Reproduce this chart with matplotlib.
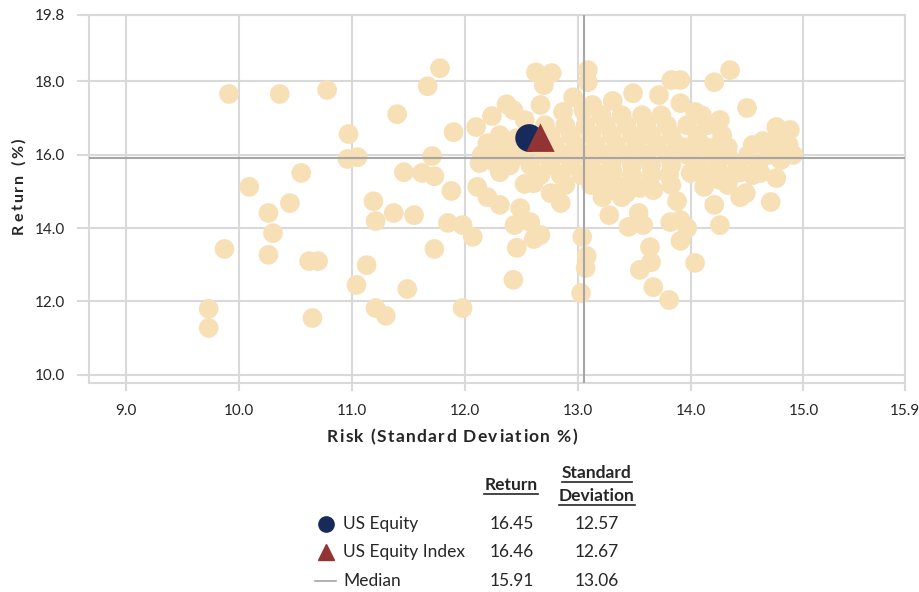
import matplotlib
matplotlib.use("Agg")
import matplotlib.pyplot as plt
from matplotlib.lines import Line2D
from matplotlib.font_manager import FontProperties

# ---------------- data ----------------
risk = [
    9.91, 10.36, 10.78, 11.78, 11.67, 11.40, 10.97, 10.96, 11.05, 11.71, 11.46, 11.62, 11.73,
    11.90, 11.88, 10.09, 10.55, 10.45, 10.26, 10.30, 10.26, 9.87, 10.62, 10.70, 11.19, 11.21,
    11.37, 11.55, 11.85, 11.73, 11.13, 11.04, 11.49, 11.21, 11.30, 10.65, 9.73, 9.73, 11.98,
    11.98, 12.07, 12.11, 12.20, 12.31, 12.44, 12.46, 12.43, 12.58, 12.67, 12.61, 12.49, 12.53,
    12.61, 12.31, 12.13, 12.76, 12.85, 13.04, 13.08, 13.07, 13.03, 13.22, 13.39, 13.28, 13.45,
    13.58, 13.54, 13.55, 13.67, 13.64, 13.65, 13.55, 13.67, 13.81, 14.04, 13.82, 13.91, 13.97,
    13.91, 13.88, 14.21, 14.26, 14.44, 14.49, 14.71, 14.76, 14.62, 14.44, 14.26, 14.12, 13.81,
    14.00, 13.31, 13.43, 13.25, 14.76, 14.88, 14.87, 14.76, 14.80, 14.64, 14.50, 14.26, 14.21,
    14.33, 13.97, 13.97, 14.04, 13.91, 13.72, 13.49, 13.31, 13.83, 13.91, 14.21, 14.35, 13.09,
    13.09, 12.63, 12.77, 12.70, 12.96, 12.87, 12.67, 12.37, 12.24, 12.10, 12.53, 12.43, 13.05,
    13.13, 12.20, 12.15, 12.46, 12.42, 12.26,
    13.21, 13.39, 13.57, 13.74, 14.10,
    12.71, 12.89, 13.07, 13.25, 13.43, 13.61, 13.79, 14.15,
    12.31, 12.58, 12.76, 12.94, 13.12, 13.30, 13.48, 13.65, 13.83, 14.06, 14.28,
    12.35, 12.62, 12.80, 12.98, 13.16, 13.34, 13.52, 13.70, 13.88, 14.10, 14.55,
    12.31, 12.49, 12.71, 12.89, 13.07, 13.25, 13.43, 13.61, 13.79, 13.97, 14.15, 14.33, 14.51,
    14.69, 14.91,
    12.40, 12.58, 12.76, 12.94, 13.12, 13.30, 13.48, 13.65, 13.83, 14.06, 14.24, 14.42, 14.60,
    12.67, 12.85, 13.03, 13.21, 13.48, 13.65, 14.15, 14.37, 14.55,
    12.89, 13.12, 13.34, 13.83, 14.33,
]
returns = [
    17.65, 17.65, 17.76, 18.35, 17.86, 17.10, 16.56, 15.88, 15.93, 15.96, 15.52, 15.50, 15.41,
    16.61, 15.01, 15.12, 15.50, 14.68, 14.41, 13.86, 13.27, 13.43, 13.10, 13.10, 14.73, 14.19,
    14.41, 14.35, 14.14, 13.43, 12.99, 12.45, 12.34, 11.82, 11.61, 11.55, 11.80, 11.28, 11.82,
    14.08, 13.76, 15.12, 14.84, 14.63, 14.08, 13.46, 12.59, 14.16, 13.81, 13.70, 14.54, 15.20,
    15.22, 15.52, 15.77, 14.95, 14.68, 13.76, 13.24, 12.91, 12.23, 14.84, 14.84, 14.35, 14.03,
    14.08, 14.41, 15.09, 15.03, 13.48, 13.07, 12.86, 12.39, 12.04, 13.05, 14.16, 14.22, 14.00,
    13.65, 14.73, 14.63, 14.08, 14.84, 14.95, 14.71, 15.36, 15.50, 15.52, 15.31, 15.12, 15.44,
    15.50, 15.52, 14.95, 15.03, 16.75, 16.67, 16.26, 16.31, 15.85, 16.37, 17.27, 16.94, 16.20,
    16.20, 16.20, 16.80, 17.16, 17.40, 17.62, 17.67, 17.46, 18.03, 18.03, 17.97, 18.30, 18.30,
    17.97, 18.24, 18.22, 17.89, 17.56, 17.16, 17.35, 17.37, 17.05, 16.75, 16.94, 17.21, 17.21,
    17.35, 16.31, 15.99, 16.45, 16.18, 15.80,
    17.07, 17.07, 17.07, 17.07, 17.07,
    16.80, 16.80, 16.80, 16.80, 16.80, 16.80, 16.80, 16.80,
    16.53, 16.53, 16.53, 16.53, 16.53, 16.53, 16.53, 16.53, 16.53, 16.53, 16.53,
    16.26, 16.26, 16.26, 16.26, 16.26, 16.26, 16.26, 16.26, 16.26, 16.26, 16.26,
    15.99, 15.99, 15.99, 15.99, 15.99, 15.99, 15.99, 15.99, 15.99, 15.99, 15.99, 15.99, 15.99,
    15.99, 15.99,
    15.71, 15.71, 15.71, 15.71, 15.71, 15.71, 15.71, 15.71, 15.71, 15.71, 15.71, 15.71, 15.71,
    15.44, 15.44, 15.44, 15.44, 15.44, 15.44, 15.44, 15.44, 15.44,
    15.17, 15.17, 15.17, 15.17, 15.17,
]

fund_name = "US Equity"
fund_return = 16.45
fund_sd = 12.57
index_name = "US Equity Index"
index_return = 16.46
index_sd = 12.67
median_return = 15.91
median_sd = 13.06

x_ticks = [9.0, 10.0, 11.0, 12.0, 13.0, 14.0, 15.0, 15.9]
y_ticks = [10.0, 12.0, 14.0, 16.0, 18.0, 19.8]
x_label = "Risk (Standard Deviation %)"
y_label = "Return (%)"

# ---------------- style ----------------
FONT = "Lato"
plt.rcParams["font.family"] = [FONT, "DejaVu Sans"]
W, H = 920, 592
fig = plt.figure(figsize=(W / 100, H / 100), dpi=100)

def fx(px):
    return px / W

def fy(py):
    return 1 - py / H

left, right, top, bottom = 89, 905, 15, 383
ax = fig.add_axes([fx(left), fy(bottom), fx(right) - fx(left), fy(top) - fy(bottom)])

GRID = "#d9d9d9"
MED = "#a6a6a6"
PEACH = "#f7dfb6"
NAVY = "#172a5a"
RED = "#933434"
TXT = "#262626"

ax.set_xlim(8.67, 15.9)
ax.set_ylim(9.78, 19.8)
ax.set_xticks(x_ticks)
ax.set_xticklabels([f"{v:.1f}" for v in x_ticks])
ax.set_yticks(y_ticks)
ax.set_yticklabels([f"{v:.1f}" for v in y_ticks])
ax.grid(True, color=GRID, linewidth=1.5, zorder=0)
ax.set_axisbelow(True)
for s in ax.spines.values():
    s.set_color(GRID)
    s.set_linewidth(1.5)
ax.tick_params(axis="x", length=6, width=1.5, color=GRID, pad=9, labelsize=11, labelcolor=TXT)
ax.tick_params(axis="y", length=9, width=1.5, color=GRID, pad=8, labelsize=11, labelcolor=TXT)

ax.scatter(risk, returns, s=200, color=PEACH, edgecolors="none", zorder=2)
ax.axhline(median_return, color=MED, linewidth=1.5, zorder=3)
ax.axvline(median_sd, color=MED, linewidth=1.5, zorder=3)
ax.scatter([fund_sd], [fund_return], s=400, marker="o", color=NAVY, edgecolors="none", zorder=4)
ax.scatter([index_sd], [index_return], s=420, marker="^", color=RED, edgecolors="none", zorder=5)

fig.canvas.draw()
renderer = fig.canvas.get_renderer()


def char_widths(s, fp):
    ws = []
    for ch in s:
        if ch == " ":
            w2 = renderer.get_text_width_height_descent("a a", fp, ismath=False)[0]
            w1 = renderer.get_text_width_height_descent("aa", fp, ismath=False)[0]
            ws.append(w2 - w1)
        else:
            ws.append(renderer.get_text_width_height_descent(ch, fp, ismath=False)[0])
    return ws


def spaced_text(s, cx, cy, target, size, vertical=False):
    fp = FontProperties(family=FONT, weight="bold", size=size)
    ws = char_widths(s, fp)
    gap = (target - sum(ws)) / (len(s) - 1)
    pos = -target / 2
    for ch, w in zip(s, ws):
        if vertical:
            fig.text(cx / W, (H - (cy - pos)) / H, ch, fontproperties=fp, color=TXT,
                     rotation=90, rotation_mode="anchor", ha="left", va="baseline")
        else:
            fig.text((cx + pos) / W, (H - cy) / H, ch, fontproperties=fp, color=TXT,
                     ha="left", va="baseline")
        pos += w + gap


spaced_text(x_label, 452, 442, 250, 12.5)
spaced_text(y_label, 23, 186, 95, 11.5, vertical=True)

# ---------------- legend table ----------------
LS = 12.5
hdr_kw = dict(fontsize=LS, fontweight="bold", color=TXT, ha="center", va="center")
row_kw = dict(fontsize=LS, color=TXT, va="center")
headers = [
    fig.text(fx(511), fy(485), "Return", **hdr_kw),
    fig.text(fx(597), fy(473), "Standard", **hdr_kw),
    fig.text(fx(597), fy(496), "Deviation", **hdr_kw),
]

rows = [
    (fund_name, fund_return, fund_sd, 524),
    (index_name, index_return, index_sd, 552),
    ("Median", median_return, median_sd, 581),
]
for name, r, sd, py in rows:
    fig.text(fx(343), fy(py), name, ha="left", **row_kw)
    fig.text(fx(512), fy(py), f"{r:.2f}", ha="center", **row_kw)
    fig.text(fx(597), fy(py), f"{sd:.2f}", ha="center", **row_kw)

fig.add_artist(Line2D([fx(326)], [fy(524)], marker="o", markersize=11, color=NAVY,
                      linestyle="none", transform=fig.transFigure))
fig.add_artist(Line2D([fx(326)], [fy(552)], marker="^", markersize=12, color=RED,
                      linestyle="none", transform=fig.transFigure))
fig.add_artist(Line2D([fx(315), fx(336)], [fy(581), fy(581)], color=MED, linewidth=1.2,
                      transform=fig.transFigure))

fig.canvas.draw()
for t in headers:
    bb = t.get_window_extent(renderer)
    yline = bb.y0 - 1
    fig.add_artist(Line2D([bb.x0 / W, bb.x1 / W], [yline / H, yline / H], color=TXT,
                          linewidth=1.2, transform=fig.transFigure))

fig.savefig("out.png", dpi=100)
